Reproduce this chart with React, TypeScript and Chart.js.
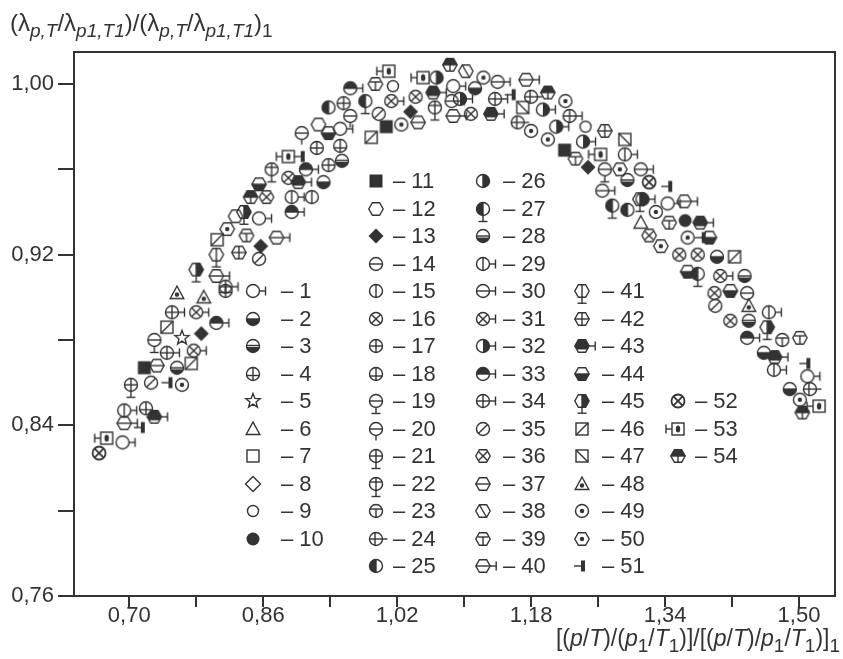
import React, { useEffect, useRef } from "react";
import { Chart, registerables } from "chart.js";
Chart.register(...registerables);

// ---------- axes ----------
const X_MIN = 0.634;
const X_MAX = 1.543;
const Y_MIN = 0.76;
const Y_MAX = 1.015;
const X_TICKS = [0.7, 0.78, 0.86, 0.94, 1.02, 1.1, 1.18, 1.26, 1.34, 1.42, 1.5];
const X_LABELED = [0.7, 0.86, 1.02, 1.18, 1.34, 1.5];
const Y_TICKS = [0.76, 0.8, 0.84, 0.88, 0.92, 0.96, 1.0];
const Y_LABELED = [0.76, 0.84, 0.92, 1.0];

// ---------- series data: [x, y] ----------
const P1 = [[0.692, 0.832], [0.855, 0.937], [0.952, 0.979], [1.087, 0.999], [1.343, 0.944], [1.51, 0.863]];
const P2 = [[0.932, 0.954], [1.113, 0.998], [1.402, 0.919], [1.458, 0.874], [1.489, 0.857]];
const P3 = [[0.954, 0.964], [1.44, 0.889]];
const P4 = [[0.72, 0.848], [0.815, 0.903]];
const P5 = [[0.763, 0.881]];
const P6 = [[1.311, 0.935]];
const P7: number[][] = [];
const P8: number[][] = [];
const P9 = [[1.245, 0.98], [1.015, 0.999]];
const P10 = [[1.364, 0.936]];
const P11 = [[0.718, 0.867], [1.007, 0.98], [1.22, 0.969]];
const P12 = [[0.827, 0.938], [0.926, 0.981]];
const P13 = [[0.786, 0.883], [0.857, 0.924], [1.036, 0.987], [1.248, 0.961]];
const P14 = [[1.438, 0.902]];
const P15 = [[0.918, 0.947]];
const P16 = [[0.89, 0.956], [1.042, 0.994], [1.108, 0.986], [1.357, 0.92], [1.379, 0.92], [1.399, 0.902], [1.418, 0.889]];
const P17 = [[0.938, 0.962], [0.956, 0.991], [0.924, 0.97]];
const P18 = [[0.952, 0.971]];
const P19 = [[0.73, 0.88], [1.268, 0.96]];
const P20 = [[0.906, 0.977], [0.964, 0.985]];
const P21 = [[0.702, 0.859]];
const P22 = [[0.87, 0.96], [1.065, 0.989]];
const P23 = [[1.48, 0.88]];
const P24 = [[1.18, 0.994], [1.164, 0.982], [1.513, 0.857]];
const P25 = [[0.938, 0.989], [1.295, 0.941]];
const P26 = [[1.067, 1.003]];
const P27 = [[0.982, 0.992], [1.277, 0.943], [1.379, 0.911]];
const P28 = [[0.757, 0.867], [1.295, 0.955], [1.435, 0.91]];
const P29 = [[0.694, 0.847], [0.894, 0.947], [1.292, 0.967], [1.464, 0.893], [1.47, 0.866]];
const P30 = [[1.14, 1.001], [1.085, 0.992], [1.265, 0.95], [1.311, 0.96]];
const P31 = [[0.78, 0.893], [0.777, 0.875], [1.013, 0.992], [1.406, 0.91]];
const P32 = [[1.095, 0.993], [1.194, 0.988], [1.21, 0.98], [1.242, 0.973], [1.313, 0.946]];
const P33 = [[0.804, 0.888], [0.894, 0.94], [0.911, 0.96], [0.964, 0.998], [1.438, 0.881]];
const P34 = [[0.751, 0.893], [0.745, 0.874], [0.815, 0.905], [1.137, 0.993], [1.226, 0.985]];
const P35 = [[0.726, 0.86], [0.855, 0.918], [0.998, 0.986], [1.4, 0.896]];
const P36 = [[0.864, 0.947], [1.321, 0.929]];
const P37 = [[0.733, 0.868], [1.045, 0.982]];
const P38 = [[1.102, 1.006]];
const P39 = [[0.84, 0.929], [0.994, 1.0], [1.233, 0.965], [1.345, 0.935], [1.501, 0.881]];
const P40 = [[0.694, 0.841], [0.804, 0.91], [0.876, 0.928], [1.087, 0.985], [1.174, 1.002], [1.363, 0.945]];
const P41 = [[0.804, 0.92]];
const P42 = [[0.831, 0.921], [1.268, 0.978]];
const P43 = [[0.73, 0.844], [0.902, 0.954], [1.063, 0.996], [1.132, 0.986], [1.382, 0.935], [1.471, 0.872]];
const P44 = [[0.855, 0.953], [0.938, 0.977], [1.393, 0.928], [1.367, 0.912], [1.418, 0.903]];
const P45 = [[0.78, 0.913], [0.837, 0.94], [1.31, 0.946], [1.462, 0.886]];
const P46 = [[0.745, 0.886], [0.774, 0.869], [0.805, 0.927], [0.989, 0.975], [1.423, 0.919]];
const P47 = [[1.17, 0.989], [1.292, 0.974]];
const P48 = [[0.757, 0.902], [0.789, 0.9], [1.44, 0.896]];
const P49 = [[0.763, 0.859], [1.025, 0.981], [1.123, 1.003], [1.18, 0.978], [1.2, 0.974], [1.221, 0.992], [1.367, 0.928], [1.329, 0.94], [1.501, 0.852]];
const P50 = [[0.817, 0.932], [1.286, 0.96], [1.335, 0.924]];
const P51 = [[0.748, 0.86], [0.715, 0.839], [0.906, 0.966], [1.158, 0.995], [1.345, 0.952], [1.51, 0.869], [1.385, 0.928]];
const P52 = [[0.664, 0.827], [1.321, 0.954]];
const P53 = [[0.673, 0.834], [0.89, 0.966], [1.01, 1.006], [1.051, 1.003], [1.263, 0.967], [1.524, 0.849]];
const P54 = [[0.845, 0.947], [1.083, 1.009], [1.2, 0.996], [1.504, 0.846]];

const SERIES = [
  P1, P2, P3, P4, P5, P6, P7, P8, P9, P10, P11, P12, P13, P14, P15, P16, P17, P18,
  P19, P20, P21, P22, P23, P24, P25, P26, P27, P28, P29, P30, P31, P32, P33, P34, P35, P36,
  P37, P38, P39, P40, P41, P42, P43, P44, P45, P46, P47, P48, P49, P50, P51, P52, P53, P54,
];

// ---------- styling ----------
const INK = "#333333";
const FONT = '"Liberation Sans", Arial, sans-serif';
const FS = 22;

// legend layout: columns of series numbers
const LEGEND_COLS = [
  { first: 1, last: 10, row: 4, mx: 253, tx: 281 },
  { first: 11, last: 25, row: 0, mx: 376, tx: 393 },
  { first: 26, last: 40, row: 0, mx: 483, tx: 503 },
  { first: 41, last: 51, row: 4, mx: 582, tx: 602 },
  { first: 52, last: 54, row: 8, mx: 678, tx: 695 },
];
const ROW0 = 181;
const ROWH = 27.5;

// ---------- glyphs ----------
const R = 6.5;
const H = 7.2;

function makeGlyph(n: number): HTMLCanvasElement {
  const c = document.createElement("canvas");
  c.width = 44;
  c.height = 44;
  const g = c.getContext("2d") as CanvasRenderingContext2D;
  g.translate(22, 22);
  g.strokeStyle = INK;
  g.fillStyle = INK;
  g.lineWidth = 1.4;
  g.lineCap = "butt";

  const line = (x1: number, y1: number, x2: number, y2: number) => {
    g.beginPath();
    g.moveTo(x1, y1);
    g.lineTo(x2, y2);
    g.stroke();
  };
  const circPath = (r = R) => {
    g.beginPath();
    g.arc(0, 0, r, 0, Math.PI * 2);
  };
  const circ = (r = R) => {
    circPath(r);
    g.stroke();
  };
  const hexPath = () => {
    g.beginPath();
    for (let k = 0; k < 6; k++) {
      const a = (k * Math.PI) / 3;
      const px = H * Math.cos(a);
      const py = H * Math.sin(a);
      if (k === 0) g.moveTo(px, py);
      else g.lineTo(px, py);
    }
    g.closePath();
  };
  const hex = () => {
    hexPath();
    g.stroke();
  };
  const HB = H * 0.866;
  const clipFill = (path: () => void, x: number, y: number, w: number, h: number) => {
    g.save();
    path();
    g.clip();
    g.fillRect(x, y, w, h);
    g.restore();
  };
  const tailR = (s: number) => {
    line(s, 0, s + 6, 0);
    line(s + 6, -4.5, s + 6, 4.5);
  };
  const tailL = (s: number) => {
    line(-s, 0, -s - 6, 0);
    line(-s - 6, -4.5, -s - 6, 4.5);
  };
  const stem = (s: number) => {
    line(0, s, 0, s + 6);
    line(-4.5, s + 6, 4.5, s + 6);
  };
  const d = R * 0.707;
  const X = () => {
    line(-d, -d, d, d);
    line(-d, d, d, -d);
  };
  const hl = (y = 0, r = R) => line(-r, y, r, y);
  const vl = (x = 0, r = R) => line(x, -r, x, r);
  const tri = () => {
    g.beginPath();
    g.moveTo(0, -7);
    g.lineTo(6.8, 5.5);
    g.lineTo(-6.8, 5.5);
    g.closePath();
    g.stroke();
  };
  const sq = () => g.strokeRect(-6, -6, 12, 12);
  const dot = (r = 2.2, y = 0) => {
    g.beginPath();
    g.arc(0, y, r, 0, Math.PI * 2);
    g.fill();
  };
  const diamondPath = () => {
    g.beginPath();
    g.moveTo(0, -7.5);
    g.lineTo(7.5, 0);
    g.lineTo(0, 7.5);
    g.lineTo(-7.5, 0);
    g.closePath();
  };
  const hd = H * 0.85;

  switch (n) {
    case 1: circ(); tailR(R); break;
    case 2: clipFill(() => circPath(), -8, 0, 16, 8); circ(); hl(); break;
    case 3: clipFill(() => circPath(), -8, 1, 16, 8); circ(); hl(-0.5); break;
    case 4: circ(); vl(); hl(1.5); break;
    case 5: {
      g.beginPath();
      for (let k = 0; k < 10; k++) {
        const rr = k % 2 === 0 ? 7.5 : 3.2;
        const a = -Math.PI / 2 + (k * Math.PI) / 5;
        const px = rr * Math.cos(a), py = rr * Math.sin(a);
        if (k === 0) g.moveTo(px, py); else g.lineTo(px, py);
      }
      g.closePath();
      g.stroke();
      break;
    }
    case 6: tri(); break;
    case 7: sq(); break;
    case 8: diamondPath(); g.stroke(); break;
    case 9: circ(5.5); break;
    case 10: circPath(); g.fill(); break;
    case 11: g.fillRect(-6.5, -6.5, 13, 13); break;
    case 12: hex(); break;
    case 13: diamondPath(); g.fill(); break;
    case 14: circ(); hl(); break;
    case 15: circ(); vl(); break;
    case 16: circ(); X(); break;
    case 17: circ(); hl(); vl(); break;
    case 18: circ(); vl(); hl(2); break;
    case 19: circ(); hl(); stem(R); break;
    case 20: circ(); hl(); line(0, R, 0, R + 5); break;
    case 21: circ(); hl(); vl(); stem(R); break;
    case 22: circ(); hl(-2); vl(); stem(R); break;
    case 23: circ(); hl(-2); line(0, -2, 0, R); break;
    case 24: circ(); line(-R, 0, R + 5, 0); vl(-1); break;
    case 25: clipFill(() => circPath(), -8, -8, 8, 16); circ(); vl(); break;
    case 26: clipFill(() => circPath(), 0, -8, 8, 16); circ(); vl(); break;
    case 27: clipFill(() => circPath(), -8, -8, 8, 16); circ(); vl(); stem(R); break;
    case 28: clipFill(() => circPath(), -8, 1.5, 16, 8); circ(); hl(); break;
    case 29: circ(); vl(); tailR(R); break;
    case 30: circ(); hl(); tailR(R); break;
    case 31: circ(); X(); tailR(R); break;
    case 32: clipFill(() => circPath(), 0, -8, 8, 16); circ(); tailR(R); break;
    case 33: clipFill(() => circPath(), -8, -8, 16, 8); circ(); hl(); tailR(R); break;
    case 34: circ(); hl(); vl(); tailR(R); break;
    case 35: circ(); line(-d, d, d, -d); break;
    case 36: hex(); line(-hd * 0.7, -hd * 0.7, hd * 0.7, hd * 0.7); line(-hd * 0.7, hd * 0.7, hd * 0.7, -hd * 0.7); break;
    case 37: hex(); hl(0, H); break;
    case 38: hex(); line(-3.6, -HB, 3.6, HB); break;
    case 39: hex(); line(-H * 0.75, -2, H * 0.75, -2); line(0, -2, 0, HB); break;
    case 40: hex(); hl(0, H); tailR(H); break;
    case 41: hex(); line(0, -HB, 0, HB); stem(HB); break;
    case 42: hex(); hl(0, H); line(0, -HB, 0, HB); break;
    case 43: clipFill(hexPath, -9, -9, 18, 12.5); hex(); tailR(H); break;
    case 44: clipFill(hexPath, -9, 0, 18, 9); hex(); hl(0, H); break;
    case 45: clipFill(hexPath, 0, -9, 9, 18); hex(); line(0, -HB, 0, HB); stem(HB); break;
    case 46: sq(); line(-6, 6, 6, -6); break;
    case 47: sq(); line(-6, -6, 6, 6); break;
    case 48: tri(); dot(2.2, 1.5); break;
    case 49: circ(); dot(2.2); break;
    case 50: hex(); dot(2.2); break;
    case 51: line(-8, 0, -1, 0); g.fillRect(-1, -5.5, 4, 11); break;
    case 52: g.lineWidth = 1.8; circ(); X(); break;
    case 53: sq(); g.beginPath(); g.ellipse(0, 0, 2.2, 3.6, 0, 0, Math.PI * 2); g.fill(); tailL(6); break;
    case 54: clipFill(hexPath, -9, -9, 18, 9); hex(); hl(0, H); line(0, 0, 0, HB); break;
  }
  return c;
}

// ---------- text runs for axis titles ----------
type Run = { t: string; it?: boolean; sub?: boolean };
const Y_TITLE: Run[] = [
  { t: "(λ" }, { t: "p,T", it: true, sub: true }, { t: "/λ" }, { t: "p1,T1", it: true, sub: true },
  { t: ")/(λ" }, { t: "p,T", it: true, sub: true }, { t: "/λ" }, { t: "p1,T1", it: true, sub: true },
  { t: ")" }, { t: "1", sub: true },
];
const X_TITLE: Run[] = [
  { t: "[(" }, { t: "p", it: true }, { t: "/" }, { t: "T", it: true }, { t: ")/(" }, { t: "p", it: true },
  { t: "1", sub: true }, { t: "/" }, { t: "T", it: true }, { t: "1", sub: true }, { t: ")]/[(" },
  { t: "p", it: true }, { t: "/" }, { t: "T", it: true }, { t: ")/" }, { t: "p", it: true },
  { t: "1", sub: true }, { t: "/" }, { t: "T", it: true }, { t: "1", sub: true }, { t: ")]" },
  { t: "1", sub: true },
];

function runFont(r: Run, main: number, sub: number) {
  const size = r.sub ? sub : main;
  return `${r.it ? "italic " : ""}${size}px ${FONT}`;
}
function measureRuns(ctx: CanvasRenderingContext2D, runs: Run[], main: number, sub: number) {
  let w = 0;
  for (const r of runs) {
    ctx.font = runFont(r, main, sub);
    w += ctx.measureText(r.t).width;
  }
  return w;
}
function drawRuns(ctx: CanvasRenderingContext2D, runs: Run[], x: number, base: number, main: number, sub: number, drop: number) {
  ctx.save();
  ctx.fillStyle = INK;
  ctx.textBaseline = "alphabetic";
  ctx.textAlign = "left";
  let cx = x;
  for (const r of runs) {
    ctx.font = runFont(r, main, sub);
    ctx.fillText(r.t, cx, r.sub ? base + drop : base);
    cx += ctx.measureText(r.t).width;
  }
  ctx.restore();
}

function fmt(v: number) {
  return v.toFixed(2).replace(".", ",");
}
const has = (arr: number[], v: number) => arr.some((a) => Math.abs(a - v) < 1e-6);

export default function App() {
  const ref = useRef<HTMLCanvasElement | null>(null);

  useEffect(() => {
    const canvas = ref.current;
    if (!canvas) return;
    const glyphs = SERIES.map((_, i) => makeGlyph(i + 1));

    const framePlugin = {
      id: "frame",
      afterDatasetsDraw(chart: any) {
        const { ctx, chartArea: a } = chart;
        ctx.save();
        ctx.strokeStyle = INK;
        ctx.lineWidth = 2;
        ctx.strokeRect(a.left, a.top, a.right - a.left, a.bottom - a.top);
        ctx.restore();
      },
    };

    const legendPlugin = {
      id: "inlegend",
      afterDraw(chart: any) {
        const ctx = chart.ctx as CanvasRenderingContext2D;
        ctx.save();
        ctx.fillStyle = INK;
        ctx.font = `${FS}px ${FONT}`;
        ctx.textBaseline = "middle";
        ctx.textAlign = "left";
        for (const col of LEGEND_COLS) {
          for (let n = col.first; n <= col.last; n++) {
            const y = ROW0 + (col.row + n - col.first) * ROWH;
            const gl = glyphs[n - 1];
            ctx.drawImage(gl, Math.round(col.mx - gl.width / 2), Math.round(y - gl.height / 2));
            ctx.fillText(`– ${n}`, col.tx, y + 1);
          }
        }
        ctx.restore();
      },
    };

    const titlePlugin = {
      id: "titles",
      afterDraw(chart: any) {
        const ctx = chart.ctx as CanvasRenderingContext2D;
        drawRuns(ctx, Y_TITLE, 10, 31, 24, 19, 6);
        const w = measureRuns(ctx, X_TITLE, 23, 19);
        drawRuns(ctx, X_TITLE, 840 - w, 646, 23, 19, 6);
      },
    };

    const chart = new Chart(canvas, {
      type: "scatter",
      data: {
        datasets: SERIES.map((pts, i) => ({
          label: String(i + 1),
          data: pts.map(([x, y]) => ({ x, y })),
          pointStyle: glyphs[i] as any,
          pointRadius: 7,
          showLine: false,
        })),
      },
      options: {
        animation: false,
        responsive: false,
        events: [],
        layout: { padding: { top: 52, right: 5, left: 0, bottom: 0 } },
        plugins: { legend: { display: false }, tooltip: { enabled: false } },
        scales: {
          x: {
            type: "linear",
            min: X_MIN,
            max: X_MAX,
            afterBuildTicks: (s: any) => {
              s.ticks = X_TICKS.map((v) => ({ value: v }));
            },
            afterFit: (s: any) => {
              s.height = 63;
            },
            border: { display: false },
            grid: { drawOnChartArea: false, drawTicks: true, tickLength: 11, color: INK, lineWidth: 2 },
            ticks: {
              autoSkip: false,
              maxRotation: 0,
              padding: -4,
              color: INK,
              font: { family: FONT, size: FS },
              callback: (v: any) => (has(X_LABELED, Number(v)) ? fmt(Number(v)) : ""),
            },
          },
          y: {
            type: "linear",
            min: Y_MIN,
            max: Y_MAX,
            afterBuildTicks: (s: any) => {
              s.ticks = Y_TICKS.map((v) => ({ value: v }));
            },
            afterFit: (s: any) => {
              s.width = 74;
            },
            border: { display: false },
            grid: { drawOnChartArea: false, drawTicks: true, tickLength: 16, color: INK, lineWidth: 2 },
            ticks: {
              autoSkip: false,
              padding: 4,
              color: INK,
              font: { family: FONT, size: FS },
              callback: (v: any) => (has(Y_LABELED, Number(v)) ? fmt(Number(v)) : ""),
            },
          },
        },
      } as any,
      plugins: [framePlugin, legendPlugin, titlePlugin],
    });
    return () => chart.destroy();
  }, []);

  return (
    <div style={{ position: "absolute", left: 0, top: 0, width: 843, height: 659, background: "#fff" }}>
      <canvas ref={ref} width={843} height={659} style={{ display: "block" }} />
    </div>
  );
}
